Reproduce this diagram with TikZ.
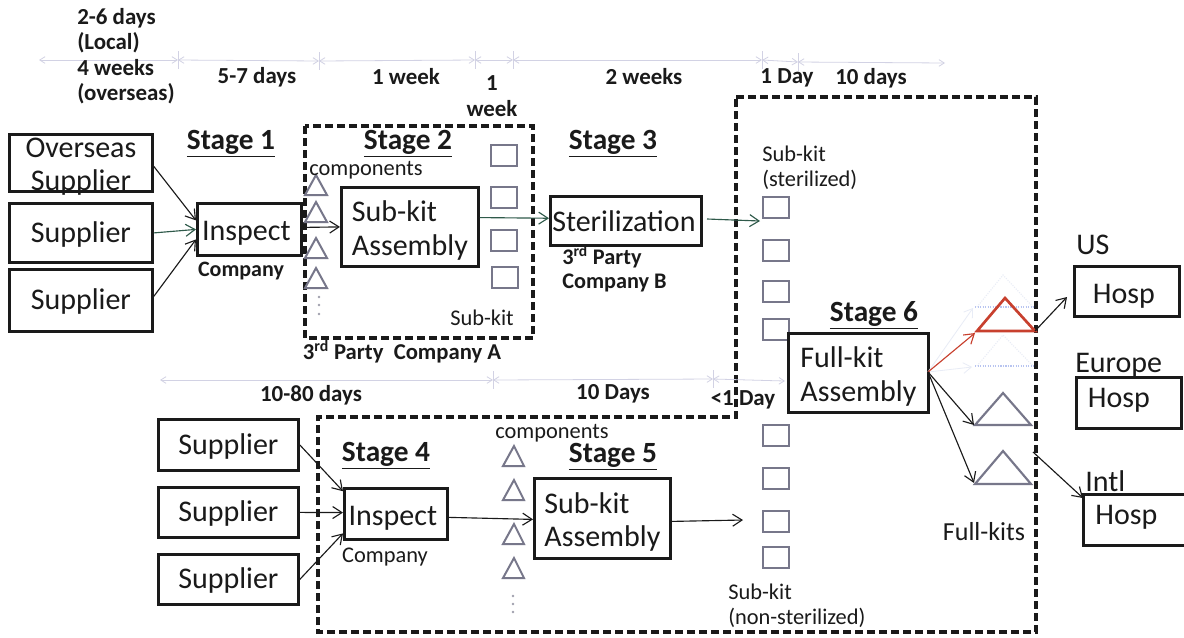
\documentclass[tikz,border=0pt]{standalone}
\usepackage{fontspec}
\setmainfont{Carlito}
\usetikzlibrary{arrows.meta,calc}
\definecolor{ink}{HTML}{1A1A1A}
\definecolor{grayline}{HTML}{77778A}
\definecolor{faint}{HTML}{D2D2E4}
\definecolor{faintdot}{HTML}{B8C4F0}
\definecolor{fainter}{HTML}{E8ECF6}
\definecolor{redline}{HTML}{C8402E}
\definecolor{greenline}{HTML}{2F5A4A}
\tikzset{
  x=0.75pt,y=-0.75pt,
  box/.style={draw=ink,line width=2.1pt,fill=white,inner sep=0pt},
  boxtext/.style={inner sep=0pt,text=ink,align=left,font=\fontsize{22.5}{25}\selectfont},
  dashbox/.style={draw=ink,line width=2.4pt,dash pattern=on 6pt off 3pt},
  sq/.style={draw=grayline,line width=1.4pt,minimum width=19.5pt,minimum height=16pt,inner sep=0pt},
  tri/.style={draw=grayline,line width=1.5pt,line join=miter},
  link/.style={draw=ink,line width=0.85pt,-{Straight Barb[length=7pt,width=9pt,line width=0.85pt]}},
  tl/.style={draw=faint,line width=0.6pt},
  tick/.style={draw=faint,line width=0.6pt},
  bold/.style={inner sep=0pt,text=ink,font=\fontsize{17.2}{19.1}\bfseries\selectfont,align=left},
  partyfont/.style={font=\fontsize{17}{18}\bfseries\selectfont},
  stagelabel/.style={inner sep=0pt,text=ink,font=\fontsize{22}{25}\bfseries\selectfont},
  small/.style={inner sep=0pt,text=ink,font=\fontsize{16.8}{18.5}\selectfont,align=left},
  dest/.style={inner sep=0pt,text=ink,font=\fontsize{22.5}{25}\selectfont},
  dotm/.style={circle,fill=grayline!70,minimum size=2pt,inner sep=0pt}
}
% [text offset], name, left, top, right, bottom, text
\newcommand{\pbox}[7][0,3.5]{%
  \node[box,anchor=north west,minimum width=#5*0.75pt-#3*0.75pt,minimum height=#6*0.75pt-#4*0.75pt] (#2) at (#3,#4) {};
  \node[boxtext] (#2t) at ($(#2.center)+(#1)$) {#7};}
\newcommand{\psq}[3]{\node[sq,anchor=north west] (#1) at (#2,#3) {};}
\begin{document}
\begin{tikzpicture}
\useasboundingbox (0,0) rectangle (1184,637);
\fill[white] (0,0) rectangle (1184,637);
% dashed frames
\draw[dashbox] (305,126) rectangle (533,338);
\draw[dashbox] (736,97) -- (1036,97) -- (1036,632) -- (318,632) -- (318,417) -- (736,417) -- cycle;
% timelines
\coordinate (t0) at (39,60); \coordinate (t1) at (178,60); \coordinate (t2) at (319,61);
\coordinate (t3) at (475,60); \coordinate (t4) at (513,60); \coordinate (t5) at (762,60);
\coordinate (t6) at (798,62); \coordinate (t7) at (945,63);
\coordinate (b0) at (160,380); \coordinate (b1) at (493,380); \coordinate (b2) at (713,379); \coordinate (b3) at (785,381);
\foreach \a/\b in {t0/t1,t1/t2,t2/t3,t3/t4,t4/t5,t5/t6,t6/t7,b0/b1,b1/b2,b2/b3}
  \draw[tl,{Straight Barb[length=4pt,width=5pt]}-{Straight Barb[length=4pt,width=5pt]}] (\a) -- (\b);
\foreach \a in {t1,t2,t3,t4,t5,t6,b1,b2}
  \draw[tick] ($(\a)+(0,-9)$) -- ($(\a)+(0,9)$);
% timeline labels
\node[bold,anchor=north west] (d1) at (77,8) {2-6 days\\(Local)\\4 weeks\\(overseas)};
\node[bold] (d2) at (257,77) {5-7 days};
\node[bold] (d3) at (406,77) {1 week};
\node[bold,align=center] (d4) at (492,96) {1\\week};
\node[bold] (d5) at (644,77) {2 weeks};
\node[bold] (d6) at (787,78) {1 Day};
\node[bold] (d7) at (871,78) {10 days};
\node[bold] (d8) at (311,395) {10-80 days};
\node[bold] (d9) at (613,394) {10 Days};
\node[bold] (d10) at (743,400) {<1 Day};
% stage labels
\node[stagelabel] (s1) at (231,144) {\underline{Stage 1}};
\node[stagelabel] (s2) at (408,144) {\underline{Stage 2}};
\node[stagelabel] (s3) at (613,144) {\underline{Stage 3}};
\node[stagelabel] (s4) at (386,456) {\underline{Stage 4}};
\node[stagelabel] (s5) at (613,457) {\underline{Stage 5}};
\node[stagelabel] (s6) at (874,315) {\underline{Stage 6}};
% boxes
\pbox{os}{8}{133}{151}{190}{Overseas\\\hspace*{4pt}Supplier}
\pbox[0,1.5]{sa}{8}{202}{151}{261}{Supplier}
\pbox[0,1.5]{sb}{8}{268}{151}{330}{Supplier}
\pbox[-3,4]{ia}{196}{202}{300}{254}{Inspect}
\pbox{ka}{340}{186}{477}{265}{Sub-kit\\Assembly}
\pbox[-2,0.5]{st}{549}{195}{700}{244}{Sterilization}
\pbox[0,1.5]{sc}{157}{418}{297}{469}{Supplier}
\pbox[0,1.5]{sd}{157}{486}{297}{536}{Supplier}
\pbox[0,1.5]{se}{157}{553}{297}{603}{Supplier}
\pbox[-3,4.5]{ib}{343}{487}{446}{538}{Inspect}
\pbox{kb}{533}{477}{669}{557}{Sub-kit\\Assembly}
\pbox[-3,5]{hu}{1073}{265}{1178}{315}{Hosp}
\pbox[-10,-2.5]{he}{1075}{376}{1180}{427}{Hosp}
\pbox[-11,-2.5]{hi}{1082}{493}{1190}{544}{Hosp}
% squares
\psq{qa}{490}{144}\psq{qb}{490}{186}\psq{qc}{490}{229}\psq{qd}{491}{266}
\psq{ra}{762}{196}\psq{rb}{762}{239}\psq{rc}{762}{280}\psq{rd}{762}{318}
\psq{re}{762}{424}\psq{rf}{762}{467}\psq{rg}{762}{510}\psq{rh}{762}{546}
\pbox{fk}{787}{332}{927}{411}{Full-kit\\Assembly}
% component triangles
\foreach \y in {175,202,238,268}
  \draw[tri] (316,\y) -- (327,\y+20) -- (305,\y+20) -- cycle;
\foreach \y in {446,480,524,558}
  \draw[tri] (514,\y) -- (524,\y+20) -- (503,\y+20) -- cycle;
\foreach \y in {297,305,314} \node[dotm] (p\y) at (319,\y) {};
\foreach \y in {596,604,612} \node[dotm] (p\y) at (513,\y) {};
% full-kit triangles
\draw[fainter,densely dotted,line width=0.8pt] (977,307) -- (1003,275) -- (1033,307);
\draw[fainter,densely dotted,line width=0.8pt] (977,366) -- (1003,335) -- (1033,366);
\draw[faintdot,densely dotted,line width=0.9pt] (975,307) -- (1035,307);
\draw[faintdot,densely dotted,line width=0.9pt] (975,366) -- (1035,366);
\draw[redline,line width=2pt] (1005,298) -- (1035,331) -- (977,331) -- cycle;
\draw[tri,line width=1.6pt] (1003,393) -- (1031,425) -- (975,425) -- cycle;
\draw[tri,line width=1.6pt] (1003,451) -- (1031,484) -- (975,484) -- cycle;
\coordinate (fr) at (975,333); \coordinate (fa) at (974,425); \coordinate (fb) at (974,483);
\coordinate (ff1) at (973,308); \coordinate (ff2) at (972,367);
\coordinate (tr) at (1035,331); \coordinate (tb) at (1033,452);
\coordinate (fo) at (928,372); \coordinate (hua) at (1067,297);
\coordinate (ra1) at (707,219); \coordinate (ra2) at (760,221);
\coordinate (sb1) at (743,520);
% connectors
\draw[link] ([yshift=-2.6pt]os.east) -- ([yshift=6.75pt]ia.west);
\draw[link,draw=greenline] (sa.east) -- (ia.west);
\draw[link] ([yshift=3pt]sb.east) -- ([yshift=-7.5pt]ia.west);
\draw[link] ([yshift=1.5pt]ia.east) -- (ka.west);
\draw[link,draw=greenline] ([yshift=7pt]ka.east) -- ([yshift=2pt]st.west);
\draw[link,draw=greenline] (ra1) -- (ra2);
\draw[link] (sc.east) -- ([yshift=17pt]ib.west);
\draw[link] (sd.east) -- ([yshift=1pt]ib.west);
\draw[link] (se.east) -- ([yshift=-14.6pt]ib.west);
\draw[link] ([yshift=-2.6pt]ib.east) -- ([yshift=-0.75pt]kb.west);
\draw[link] ([yshift=-2.25pt]kb.east) -- (sb1);
\draw[fainter,line width=0.6pt,-{Straight Barb[length=6pt,width=8pt]}] (fo) -- (ff1);
\draw[fainter,line width=0.6pt,-{Straight Barb[length=6pt,width=8pt]}] (fo) -- (ff2);
\draw[link,draw=redline] (fo) -- (fr);
\draw[link] (fo) -- (fa);
\draw[link] (fo) -- (fb);
\draw[link] (tr) -- (hua);
\draw[link] (tb) -- ([xshift=0.75pt,yshift=-3.75pt]hi.north west);
% texts
\node[small] (c1) at (366,170) {components};
\node[small] (c2) at (552,433) {components};
\node[small] (c3) at (482,318) {Sub-kit};
\node[small,anchor=north west] (c4) at (762,146) {Sub-kit\\(sterilized)};
\node[small,anchor=north west] (c5) at (728,584) {Sub-kit\\(non-sterilized)};
\node[small,font=\fontsize{19.5}{22}\selectfont] (c6) at (984,532) {Full-kits};
\node[small] (c7) at (385,557) {Company};
\node[bold,font=\fontsize{16.5}{18}\bfseries\selectfont] (e1) at (241,271) {Company};
\node[bold,partyfont] (e2) at (402,352) {3\textsuperscript{rd} Party\ \ Company A};
\node[bold,font=\fontsize{16.7}{18}\bfseries\selectfont,anchor=north west] (e3) at (562,245) {3\textsuperscript{rd} Party\\Company B};
\node[dest,anchor=west] (u1) at (1076,245) {US};
\node[dest,anchor=west] (u2) at (1075,365) {Europe};
\node[dest,anchor=west] (u3) at (1085,481) {Intl};
\end{tikzpicture}
\end{document}
